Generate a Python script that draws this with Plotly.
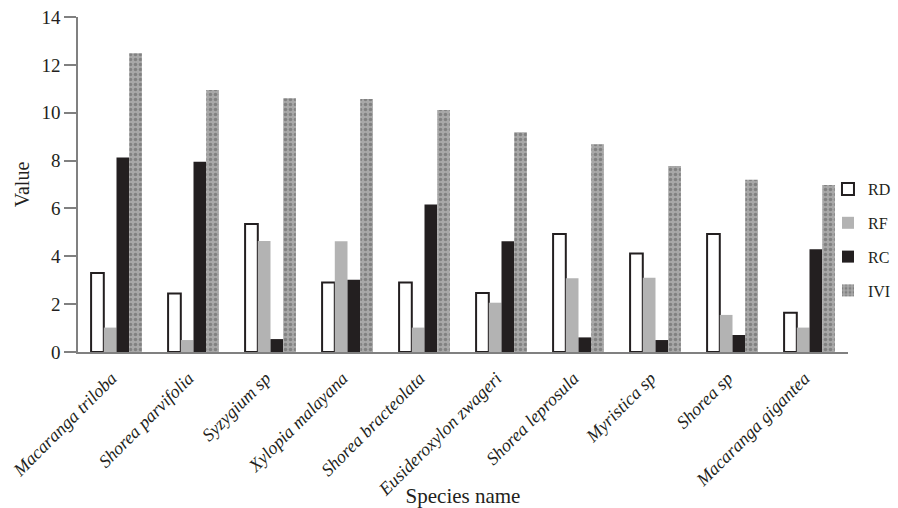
import plotly.graph_objects as go

species = ["Macaranga triloba", "Shorea parvifolia", "Syzygium sp", "Xylopia malayana",
           "Shorea bracteolata", "Eusideroxylon zwageri", "Shorea leprosula",
           "Myristica sp", "Shorea sp", "Macaranga gigantea"]
rd = [3.3, 2.45, 5.35, 2.9, 2.9, 2.47, 4.93, 4.12, 4.93, 1.64]
rf = [1.02, 0.5, 4.64, 4.63, 1.02, 2.06, 3.08, 3.1, 1.55, 1.02]
rc = [8.13, 7.95, 0.54, 3.02, 6.16, 4.63, 0.61, 0.5, 0.71, 4.29]
ivi = [12.48, 10.95, 10.6, 10.57, 10.11, 9.18, 8.68, 7.77, 7.2, 6.98]
y_ticks = [0, 2, 4, 6, 8, 10, 12, 14]

serif = "Liberation Serif, Times New Roman, serif"
ink = "#231f20"

fig = go.Figure()
fig.add_trace(go.Bar(name="RD", x=species, y=rd, legendgroup="a",
                     marker=dict(color="white", line=dict(color=ink, width=2))))
fig.add_trace(go.Bar(name="RF", x=species, y=rf, legendgroup="b",
                     marker=dict(color="#b3b3b3", line=dict(width=0))))
fig.add_trace(go.Bar(name="RC", x=species, y=rc, legendgroup="c",
                     marker=dict(color=ink, line=dict(width=0))))
fig.add_trace(go.Bar(name="IVI", x=species, y=ivi, legendgroup="d",
                     marker=dict(color="#a3a3a3", line=dict(width=0),
                                 pattern=dict(shape=".", fgcolor="#5a5a5a", bgcolor="#a8a8a8",
                                              size=5, solidity=0.4))))

fig.update_layout(
    width=898, height=508,
    margin=dict(l=78, r=50, t=17, b=156, autoexpand=False),
    paper_bgcolor="white", plot_bgcolor="white",
    barmode="group", bargap=0.34, bargroupgap=0,
    font=dict(family=serif, size=16, color=ink),
    showlegend=True,
    legend=dict(x=0.974, y=0.537, xanchor="left", yanchor="top",
                font=dict(family=serif, size=16, color=ink),
                tracegroupgap=10, itemwidth=30, bgcolor="rgba(0,0,0,0)"),
    xaxis=dict(
        automargin=False,
        showline=True, linecolor="#808080", linewidth=1.5,
        ticks="", tickangle=-45, ticklabelshift=-5, ticklabelstandoff=7,
        tickfont=dict(family=serif, size=18, color=ink),
        title=dict(text="Species name", font=dict(family=serif, size=21, color=ink), standoff=5),
        showgrid=False, zeroline=False,
    ),
    yaxis=dict(
        automargin=False,
        range=[0, 14], tickvals=y_ticks,
        showline=True, linecolor="#808080", linewidth=1.5,
        ticks="outside", ticklen=12, tickcolor="#808080", tickwidth=1.5,
        tickfont=dict(family=serif, size=19, color=ink),
        title=dict(text="Value", font=dict(family=serif, size=20, color=ink), standoff=6),
        showgrid=False, zeroline=False,
    ),
)
fig.update_xaxes(ticktext=["<i>%s</i>" % s for s in species], tickvals=species)
fig.write_html("out.html", config={"displayModeBar": False},
               post_script="document.body.style.margin='0px';")
